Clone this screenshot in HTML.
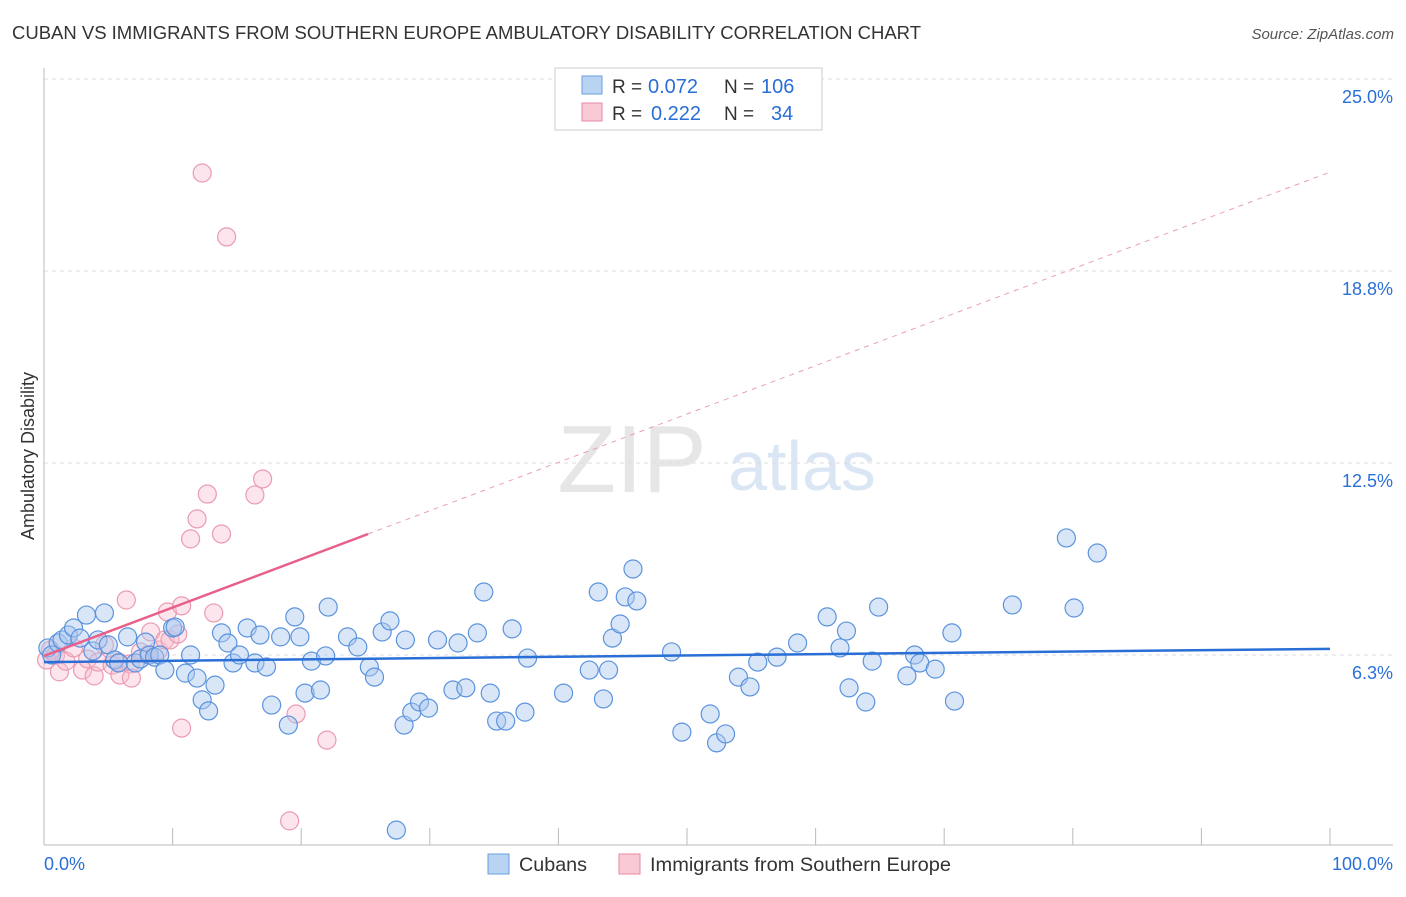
<!DOCTYPE html>
<html><head><meta charset="utf-8"><style>
body{margin:0;background:#fff;font-family:"Liberation Sans",sans-serif;}
svg text{font-family:"Liberation Sans",sans-serif;}
</style></head><body>
<svg id="chart" width="1406" height="892">
<text x="12" y="39" font-size="18" fill="#333" textLength="909" lengthAdjust="spacingAndGlyphs">CUBAN VS IMMIGRANTS FROM SOUTHERN EUROPE AMBULATORY DISABILITY CORRELATION CHART</text>
<text x="1394" y="39" font-size="15" fill="#555" font-style="italic" text-anchor="end">Source: ZipAtlas.com</text>
<text x="34" y="456" font-size="18" fill="#333" text-anchor="middle" transform="rotate(-90 34 456)">Ambulatory Disability</text>
<text x="632" y="492" font-size="96" fill="#e6e6e6" font-family="Liberation Serif" text-anchor="middle">ZIP</text>
<text x="802" y="490" font-size="70" fill="#dbe6f5" text-anchor="middle">atlas</text>
<g id="grid"></g><g id="axes"></g><g id="pts"></g><g id="lines"></g>
<g>
<rect x="555" y="68" width="267" height="62" fill="#fff" stroke="#ccc"/>
<rect x="582" y="76" width="20" height="18" fill="#b9d3f3" stroke="#6a9ee0"/>
<text x="612" y="93" font-size="19" fill="#333">R =</text>
<text x="648" y="93" font-size="20" fill="#2a6fd6">0.072</text>
<text x="724" y="93" font-size="19" fill="#333">N =</text>
<text x="761" y="93" font-size="20" fill="#2a6fd6">106</text>
<rect x="582" y="103" width="20" height="18" fill="#f9c9d6" stroke="#e68aa5"/>
<text x="612" y="120" font-size="19" fill="#333">R =</text>
<text x="651" y="120" font-size="20" fill="#2a6fd6">0.222</text>
<text x="724" y="120" font-size="19" fill="#333">N =</text>
<text x="771" y="120" font-size="20" fill="#2a6fd6">34</text>
</g>
<g>
<rect x="488" y="854" width="21" height="20" fill="#b9d3f3" stroke="#6a9ee0"/>
<text x="519" y="871" font-size="19.5" fill="#333" textLength="68" lengthAdjust="spacingAndGlyphs">Cubans</text>
<rect x="619" y="854" width="21" height="20" fill="#f9c9d6" stroke="#e68aa5"/>
<text x="650" y="871" font-size="19.5" fill="#333" textLength="301" lengthAdjust="spacingAndGlyphs">Immigrants from Southern Europe</text>
</g>
</svg>
<script>
const bx=[0.3,0.6,1.1,1.4,1.9,2.3,2.8,3.3,3.8,4.2,4.7,5.0,5.5,5.8,6.5,7.1,7.5,7.9,8.2,8.6,9.0,9.4,10.0,10.2,11.0,11.4,11.9,12.3,12.8,13.3,13.8,14.3,14.7,15.2,15.8,16.4,16.8,17.3,17.7,18.4,19.0,19.5,19.9,20.3,20.8,21.5,21.9,22.1,23.6,24.4,25.3,25.7,26.3,26.9,28.0,28.1,28.6,29.2,29.9,30.6,31.8,32.2,32.8,33.7,34.2,34.7,35.2,35.9,36.4,37.4,37.6,40.4,42.4,43.1,43.5,43.9,44.2,44.8,45.2,45.8,46.1,48.8,49.6,51.8,52.3,53.0,54.0,54.9,55.5,57.0,58.6,60.9,61.9,62.4,62.6,63.9,64.4,64.9,67.1,67.7,68.1,69.3,70.6,70.8,75.3,79.5,80.1,81.9,27.4];
const by=[6.48,6.25,6.64,6.74,6.90,7.13,6.80,7.55,6.38,6.74,7.62,6.58,6.09,5.99,6.84,5.99,6.12,6.67,6.25,6.18,6.25,5.76,7.13,7.16,5.66,6.25,5.50,4.79,4.43,5.27,6.97,6.64,5.99,6.25,7.13,5.99,6.90,5.86,4.62,6.84,3.97,7.49,6.84,5.01,6.05,5.11,6.22,7.81,6.84,6.51,5.86,5.53,7.00,7.36,3.97,6.74,4.39,4.72,4.52,6.74,5.11,6.64,5.18,6.97,8.30,5.01,4.10,4.10,7.10,4.39,6.15,5.01,5.76,8.30,4.82,5.76,6.80,7.26,8.14,9.05,8.01,6.35,3.74,4.33,3.39,3.68,5.53,5.21,6.02,6.18,6.64,7.49,6.48,7.03,5.18,4.72,6.05,7.81,5.57,6.25,5.99,5.79,6.97,4.75,7.88,10.06,7.78,9.57,0.55];
const px=[0.2,0.5,0.9,1.2,1.7,2.3,3.0,3.4,3.9,4.2,4.7,5.3,5.8,5.9,6.4,6.7,6.8,7.5,8.1,8.3,8.9,9.4,9.6,9.8,10.4,10.7,10.7,11.4,11.9,12.3,12.7,13.2,13.8,14.2,16.4,17.0,19.1,19.6,22.0];
const py=[6.09,6.41,6.25,5.70,6.05,6.48,5.76,6.12,5.57,6.02,6.58,5.92,6.02,5.60,8.04,5.96,5.50,6.35,6.25,7.00,6.41,6.74,7.65,6.74,6.93,3.87,7.85,10.03,10.68,21.94,11.49,7.62,10.19,19.86,11.46,11.98,0.85,4.33,3.48];
const yTicks=[6.25,12.5,18.75,25.0];
const yTickLabels=["6.3%","12.5%","18.8%","25.0%"];
const blueLine=[6.02,6.45];
const pinkLine=[6.22,21.97];
const pinkSolidEnd=25.2;
const NS="http://www.w3.org/2000/svg";
const X=v=>44+v*12.86, Y=v=>847-v*30.72;
function mk(parent,tag,attrs){const e=document.createElementNS(NS,tag);for(const k in attrs)e.setAttribute(k,attrs[k]);document.getElementById(parent).appendChild(e);return e;}
yTicks.forEach((t,i)=>{
 const l=mk('grid','line',{x1:44,x2:1393,y1:Y(t),y2:Y(t),stroke:'#ddd','stroke-dasharray':'4,4'});
 
 
 const tx=mk('grid','text',{x:1393,y:Y(t)+24,'font-size':18,fill:'#2a6fd6','text-anchor':'end'});
 tx.textContent=yTickLabels[i];
 
 
});
let a=mk('axes','line',{x1:44,x2:44,y1:68,y2:845,stroke:'#bbb'});


a=mk('axes','line',{x1:44,x2:1393,y1:845,y2:845,stroke:'#bbb'});


for(let i=0;i<=10;i++){const t=mk('axes','line',{x1:X(i*10),x2:X(i*10),y1:828,y2:845,stroke:'#bbb'});
 
 }
let xl=mk('axes','text',{x:44,y:870,'font-size':18,fill:'#2a6fd6'});xl.textContent='0.0%';


xl=mk('axes','text',{x:1393,y:870,'font-size':18,fill:'#2a6fd6','text-anchor':'end'});xl.textContent='100.0%';


px.forEach((v,i)=>{const c=mk('pts','circle',{cx:X(v),cy:Y(py[i]),r:9,fill:'rgba(248,190,207,0.4)',stroke:'#eb9ab2','stroke-width':1.2});
 
 });
bx.forEach((v,i)=>{const c=mk('pts','circle',{cx:X(v),cy:Y(by[i]),r:9,fill:'rgba(170,200,240,0.45)',stroke:'#5b93dd','stroke-width':1.2});
 
 });
const pAt=v=>pinkLine[0]+(pinkLine[1]-pinkLine[0])*v/100;
let ln=mk('lines','line',{x1:X(0),y1:Y(pinkLine[0]),x2:X(pinkSolidEnd),y2:Y(pAt(pinkSolidEnd)),stroke:'#e8608a','stroke-width':2.5});


ln=mk('lines','line',{x1:X(pinkSolidEnd),y1:Y(pAt(pinkSolidEnd)),x2:X(100),y2:Y(pinkLine[1]),stroke:'#e8a0b5','stroke-width':1,'stroke-dasharray':'5,5'});


ln=mk('lines','line',{x1:X(0),y1:Y(blueLine[0]),x2:X(100),y2:Y(blueLine[1]),stroke:'#2a6fd6','stroke-width':2.5});


</script>
</body></html>
